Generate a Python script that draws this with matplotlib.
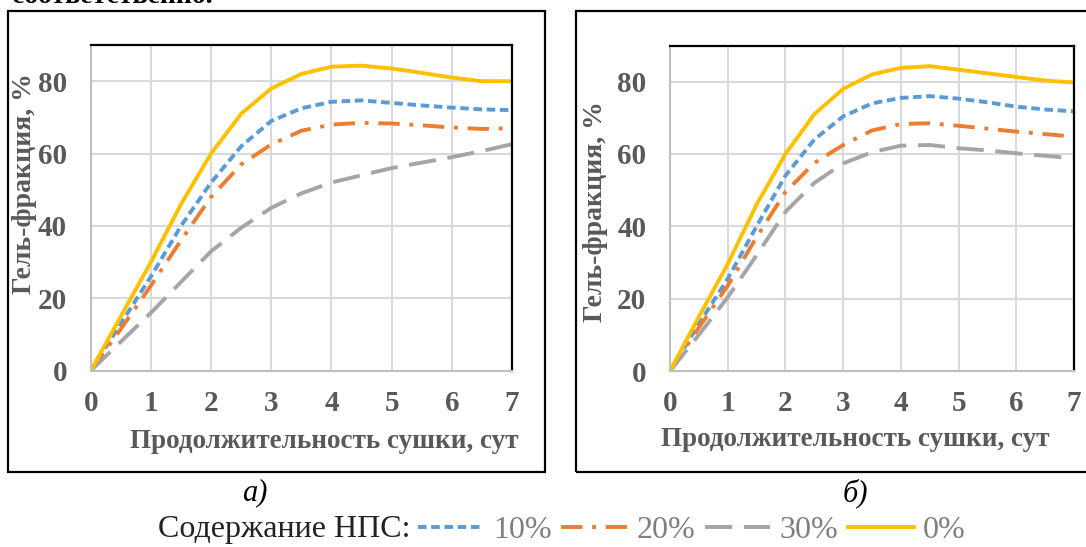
import matplotlib.pyplot as plt
from matplotlib.patches import Rectangle

plt.rcParams['font.family'] = ['Liberation Serif', 'DejaVu Serif']

# Продолжительность сушки, сут
days = [0, 0.5, 1, 1.5, 2, 2.5, 3, 3.5, 4, 4.5, 5, 5.5, 6, 6.5, 7]

# а) гель-фракция, %
a_10 = [0, 13, 26, 40, 52, 62, 69, 72.5, 74.3, 74.7, 74, 73.3, 72.7, 72.2, 72]
a_20 = [0, 11.5, 23.5, 36, 48, 57, 62.5, 66.3, 68, 68.5, 68.3, 67.8, 67.2, 66.8, 67]
a_30 = [0, 8, 16, 24.5, 33, 39.5, 45, 49, 52, 54, 56, 57.5, 59, 60.7, 62.6]
a_0 = [0, 15, 30, 46, 60, 71, 78, 82, 84, 84.3, 83.5, 82.3, 81, 80, 80]

# б) гель-фракция, %
b_10 = [0, 13, 25.5, 40, 54, 64, 70.4, 74, 75.5, 76, 75.3, 74.3, 73.1, 72.3, 71.8]
b_20 = [0, 12, 23.6, 37, 49.5, 57.5, 62.5, 66.5, 68.3, 68.5, 67.8, 67, 66.2, 65.5, 64.8]
b_30 = [0, 10, 20.4, 32, 44, 52, 57.4, 60.5, 62.3, 62.5, 61.6, 61, 60.2, 59.5, 58.8]
b_0 = [0, 15, 29.6, 46, 60, 71, 78, 82, 83.8, 84.3, 83.3, 82.3, 81.3, 80.3, 79.8]

labels = ['10%', '20%', '30%', '0%']
colors = ['#5B9BD5', '#ED7D31', '#A5A5A5', '#FFC000']
dashes = [(2.2, 1.2), (5.5, 2.5, 1, 2.5), (7, 3), None]

W, H = 1086, 547
fig = plt.figure(figsize=(W / 100, H / 100), dpi=100)

def px(x0, y0, x1, y1):
    return [x0 / W, 1 - y1 / H, (x1 - x0) / W, (y1 - y0) / H]

# рамки вокруг рисунков
for x0, x1 in [(8, 545), (576, 1100)]:
    fig.patches.append(Rectangle((x0 / W, 1 - 472 / H), (x1 - x0) / W, (472 - 11) / H,
                                 transform=fig.transFigure, fill=False,
                                 edgecolor='black', linewidth=1.6))

ax1 = fig.add_axes(px(90.7, 45, 512, 370.7))
ax2 = fig.add_axes(px(670, 45.5, 1074, 371))

handles = []
for ax, series in [(ax1, [a_10, a_20, a_30, a_0]), (ax2, [b_10, b_20, b_30, b_0])]:
    handles = []
    for y, c, d, lab in zip(series, colors, dashes, labels):
        ln, = ax.plot(days, y, color=c, linewidth=2.8, label=lab, solid_joinstyle='round')
        if d is not None:
            ln.set_dashes(d)
        handles.append(ln)
    ax.set_xlim(0, 7)
    ax.set_ylim(0, 90)
    ax.set_xticks(range(0, 8))
    ax.set_yticks(range(0, 81, 20))
    ax.grid(True, color='#D9D9D9', linewidth=1.5)
    ax.set_axisbelow(True)
    ax.tick_params(length=0, labelsize=21, labelcolor='#595959')
    ax.tick_params(axis='x', pad=14)
    ax.tick_params(axis='y', pad=17)
    for t in ax.get_xticklabels() + ax.get_yticklabels():
        t.set_fontweight('bold')
    ax.spines['left'].set_color('#BFBFBF')
    ax.spines['bottom'].set_color('#BFBFBF')
    ax.spines['left'].set_linewidth(1.5)
    ax.spines['bottom'].set_linewidth(1.5)
    ax.spines['top'].set_linewidth(1.6)
    ax.spines['right'].set_linewidth(1.6)

fig.text(324 / W, 1 - 441 / H, 'Продолжительность сушки, сут', ha='center', va='center',
         fontsize=19.5, fontweight='bold', color='#595959')
fig.text(855 / W, 1 - 440 / H, 'Продолжительность сушки, сут', ha='center', va='center',
         fontsize=19.5, fontweight='bold', color='#595959')
fig.text(25 / W, 1 - 184 / H, 'Гель-фракция, %', rotation=90, ha='center', va='center',
         fontsize=20, fontweight='bold', color='#595959')
fig.text(596 / W, 1 - 212 / H, 'Гель-фракция, %', rotation=90, ha='center', va='center',
         fontsize=20, fontweight='bold', color='#595959')

fig.text(255 / W, 1 - 493 / H, 'а)', style='italic', fontsize=22, ha='center', va='center')
fig.text(855 / W, 1 - 493 / H, 'б)', style='italic', fontsize=22, ha='center', va='center')

fig.text(12 / W, 1 - 3 / H, 'соответственно.', fontsize=20, fontweight='bold', ha='left', va='baseline')

fig.text(158 / W, 1 - 530 / H, 'Содержание НПС:', fontsize=23, color='#222222', ha='left', va='center')
fig.legend(handles=handles, labels=labels, loc='center left', bbox_to_anchor=(418 / W, 1 - 530 / H),
           ncol=4, frameon=False, fontsize=23, labelcolor='#7F7F7F', handlelength=2.05,
           handletextpad=0.3, columnspacing=0.3, borderpad=0, borderaxespad=0)

fig.savefig('out.png', dpi=100)
